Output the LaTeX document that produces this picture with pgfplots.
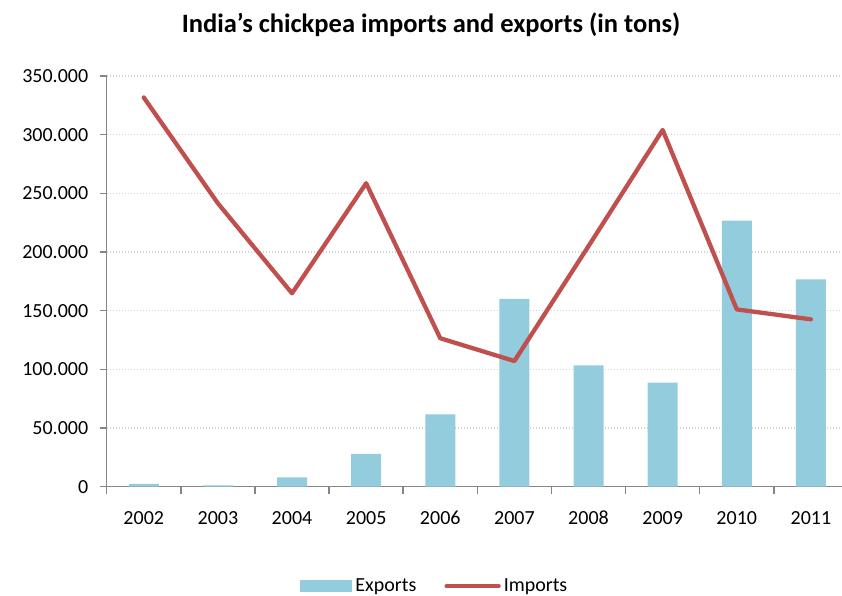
\documentclass[border=0pt]{standalone}
\usepackage{fontspec}
\setmainfont{Carlito}
\usepackage{pgfplots}
\pgfplotsset{compat=1.18}
\definecolor{barblue}{HTML}{93CDDD}
\definecolor{linered}{HTML}{C0504D}
\definecolor{axgray}{HTML}{868686}
\definecolor{gridgray}{HTML}{D4D4D4}
\begin{document}
\begin{tikzpicture}[x=1bp,y=1bp]
\useasboundingbox (0,0) rectangle (842,596);
\node[font=\fontsize{26.5bp}{30bp}\selectfont\bfseries] at (431,571) {India’s chickpea imports and exports (in tons)};
\begin{axis}[
  at={(106.7bp,109.3bp)}, anchor=south west,
  width=735.3bp, height=410.7bp, scale only axis,
  xmin=-0.5, xmax=9.42, ymin=0, ymax=350000,
  axis lines*=left,
  axis line style={axgray, line width=1.5bp},
  xtick={0,...,9},
  xticklabels={2002,2003,2004,2005,2006,2007,2008,2009,2010,2011},
  major x tick style={draw=none},
  minor xtick={-0.5,0.5,...,8.5},
  minor x tick style={axgray, line width=1.5bp},
  minor tick length=7bp,
  ytick={0,50000,...,350000},
  major y tick style={axgray, line width=1.5bp},
  major tick length=7bp,
  tick align=outside,
  ymajorgrids,
  grid style={gridgray, line width=1.3bp, dash pattern=on 1.3bp off 1.7bp},
  scaled y ticks=false,
  /pgf/number format/.cd, fixed, precision=0, 1000 sep={.}, assume math mode=true,
  /pgfplots/.cd,
  tick label style={font=\fontsize{20bp}{24bp}\selectfont},
  yticklabel style={xshift=-8bp},
  xticklabel style={yshift=-14bp},
  legend columns=2,
  legend style={at={(0.447,-0.242)}, anchor=center, draw=none, fill=none,
    font=\fontsize{20bp}{24bp}\selectfont, inner sep=0pt,
    /tikz/every even column/.append style={column sep=25bp},
    nodes={inner sep=3bp}},
]
\addplot[ybar, bar width=30bp, fill=barblue, draw=none,
  legend image code/.code={\fill[barblue] (0bp,-6bp) rectangle (52bp,6bp);}]
  coordinates {(0,2500) (1,1200) (2,8000) (3,28000) (4,61700) (5,160000) (6,103400) (7,88600) (8,226700) (9,176700)};
\addlegendentry{Exports}
\addplot[linered, line width=4.3bp, line join=round, line cap=round, mark=none,
  legend image code/.code={\draw[linered, line width=4.3bp, line cap=round] (0bp,0bp) -- (52bp,0bp);}]
  coordinates {(0,331700) (1,241500) (2,164800) (3,258600) (4,126500) (5,107100) (6,205000) (7,304000) (8,151100) (9,142600)};
\addlegendentry{Imports}
\end{axis}
\end{tikzpicture}
\end{document}
